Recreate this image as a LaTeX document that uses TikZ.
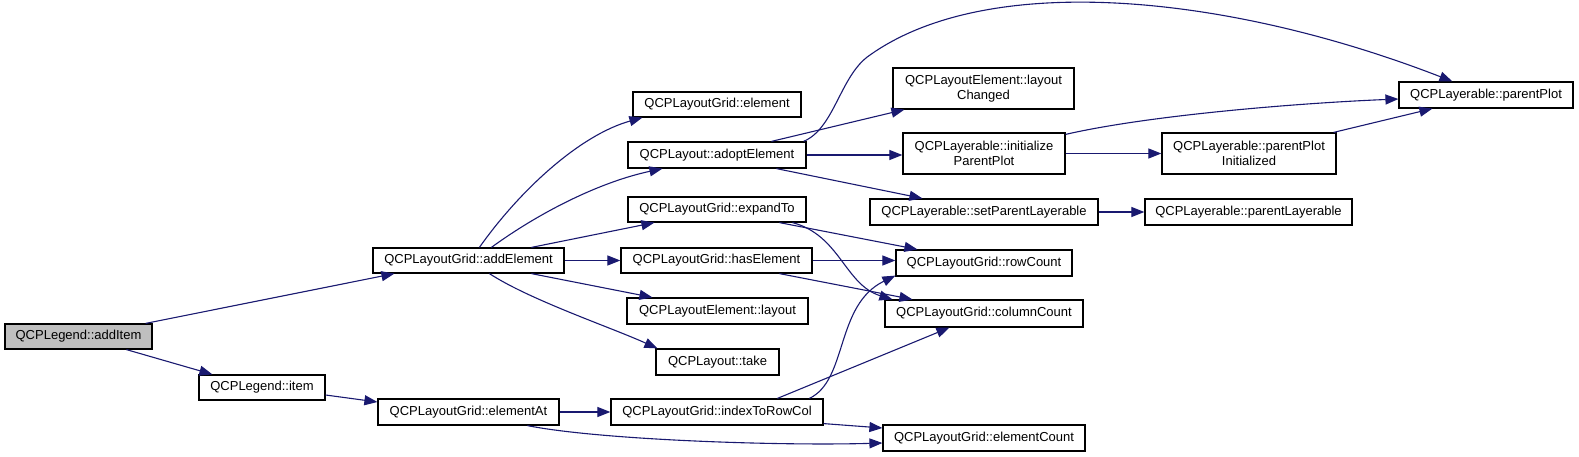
\documentclass[tikz,border=0pt]{standalone}
\usepackage{fontspec}
\setmainfont{Liberation Sans}
\usetikzlibrary{arrows.meta,calc}
\definecolor{edgec}{HTML}{191970}
\definecolor{grayfill}{HTML}{BFBFBF}
\tikzset{
  box/.style={draw=black, line width=1.2pt, fill=white, inner sep=0pt, align=center,
    font=\fontsize{13}{14.5}\selectfont, rectangle},
  link/.style={draw=edgec, color=edgec, line width=1.1pt, -{Triangle[length=13pt,width=10pt]}}
}
\begin{document}
\begin{tikzpicture}[x=1pt,y=-1pt]
\useasboundingbox (0,0) rectangle (1579,457);
% nodes
\node[box, fill=grayfill, minimum width=147pt, minimum height=25pt] (addItem) at (78.5,336.5) {QCPLegend::addItem};
\node[box, minimum width=191pt, minimum height=25pt] (addElement) at (468.5,260.5) {QCPLayoutGrid::addElement};
\node[box, minimum width=126pt, minimum height=25pt] (item) at (262,387.5) {QCPLegend::item};
\node[box, minimum width=181pt, minimum height=26pt] (elementAt) at (468.5,412) {QCPLayoutGrid::elementAt};
\node[box, minimum width=168pt, minimum height=25pt] (element) at (717,104.5) {QCPLayoutGrid::element};
\node[box, minimum width=178pt, minimum height=26pt] (adoptElement) at (717,155) {QCPLayout::adoptElement};
\node[box, minimum width=178pt, minimum height=25pt] (expandTo) at (717,209.5) {QCPLayoutGrid::expandTo};
\node[box, minimum width=191pt, minimum height=25pt] (hasElement) at (716.5,260.5) {QCPLayoutGrid::hasElement};
\node[box, minimum width=181pt, minimum height=26pt] (layout) at (717.5,311) {QCPLayoutElement::layout};
\node[box, minimum width=123pt, minimum height=26pt] (take) at (717.5,362) {QCPLayout::take};
\node[box, minimum width=212pt, minimum height=26pt] (indexToRowCol) at (717,412) {QCPLayoutGrid::indexToRowCol};
\node[box, minimum width=181pt, minimum height=41pt] (layoutChanged) at (983.5,88.5) {QCPLayoutElement::layout\\Changed};
\node[box, minimum width=162pt, minimum height=41pt] (initParentPlot) at (984,153.5) {QCPLayerable::initialize\\ParentPlot};
\node[box, minimum width=228pt, minimum height=26pt] (setParentLayerable) at (984,212) {QCPLayerable::setParentLayerable};
\node[box, minimum width=176pt, minimum height=26pt] (rowCount) at (984,263) {QCPLayoutGrid::rowCount};
\node[box, minimum width=198pt, minimum height=27pt] (columnCount) at (984,313.5) {QCPLayoutGrid::columnCount};
\node[box, minimum width=202pt, minimum height=26pt] (elementCount) at (984,438) {QCPLayoutGrid::elementCount};
\node[box, minimum width=174pt, minimum height=26pt] (parentPlot) at (1486,95) {QCPLayerable::parentPlot};
\node[box, minimum width=174pt, minimum height=41pt] (parentPlotInit) at (1249,153.5) {QCPLayerable::parentPlot\\Initialized};
\node[box, minimum width=207pt, minimum height=26pt] (parentLayerable) at (1248.5,212) {QCPLayerable::parentLayerable};
\coordinate (arcmid) at (870,55);
% edges
\draw[link] ($(addItem.north east)+(-7,0)$) -- ($(addElement.south west)+(22,0)$);
\draw[link] ($(addItem.south west)+(122,0)$) -- ($(item.north west)+(14,0)$);
\draw[link] ($(item.east)+(0,7.5)$) -- ($(elementAt.west)+(0,-10)$);
\draw[link] (elementAt.east) -- (indexToRowCol.west);
\draw[link] ($(elementAt.south west)+(150,0)$) .. controls (600,440) and (780,446) .. ($(elementCount.west)+(0,5)$);
\draw[link] ($(addElement.north west)+(107,0)$) .. controls (520,190) and (580,135) .. ($(element.south west)+(10,0)$);
\draw[link] ($(addElement.north west)+(119,0)$) .. controls (540,212) and (600,182) .. ($(adoptElement.south west)+(35,0)$);
\draw[link] ($(addElement.north west)+(159,0)$) -- ($(expandTo.south west)+(27,0)$);
\draw[link] (addElement.east) -- (hasElement.west);
\draw[link] ($(addElement.south west)+(159,0)$) -- ($(layout.north west)+(26,0)$);
\draw[link] ($(addElement.south west)+(117,0)$) .. controls (530,300) and (610,327) .. ($(take.north west)+(2,0)$);
\draw[link] ($(adoptElement.north west)+(144,0)$) -- ($(layoutChanged.south west)+(12,0)$);
\draw[link] (adoptElement.east) -- (adoptElement.east -| initParentPlot.west);
\draw[link] ($(adoptElement.south west)+(149,0)$) -- ($(setParentLayerable.north west)+(53,0)$);
\draw[link] ($(adoptElement.north east)+(-3,0)$) .. controls (835,128) and (840,75) .. (arcmid)
  .. controls (990,-30) and (1230,-5) .. ($(parentPlot.north west)+(54,0)$);
\draw[link] ($(initParentPlot.north east)+(0,2)$) .. controls (1150,115) and (1300,103) .. ($(parentPlot.west)+(0,4)$);
\draw[link] (initParentPlot.east) -- (parentPlotInit.west);
\draw[link] ($(parentPlotInit.north east)+(-3,0)$) -- ($(parentPlot.south west)+(34,0)$);
\draw[link] (setParentLayerable.east) -- (parentLayerable.west);
\draw[link] ($(expandTo.south west)+(152,0)$) -- ($(rowCount.north west)+(22,0)$);
\draw[link] ($(expandTo.south west)+(165,0)$) .. controls (840,235) and (845,285) .. ($(columnCount.north west)+(8,0)$);
\draw[link] (hasElement.east) -- (hasElement.east -| rowCount.west);
\draw[link] ($(hasElement.south west)+(159,0)$) -- ($(columnCount.north west)+(28,0)$);
\draw[link] ($(indexToRowCol.north west)+(199,0)$) .. controls (848,380) and (835,305) .. ($(rowCount.south west)+(0,-1)$);
\draw[link] ($(indexToRowCol.north west)+(167,0)$) -- ($(columnCount.south west)+(65,0)$);
\draw[link] ($(indexToRowCol.south east)+(0,-2)$) -- ($(elementCount.west)+(0,-10)$);
\end{tikzpicture}
\end{document}
